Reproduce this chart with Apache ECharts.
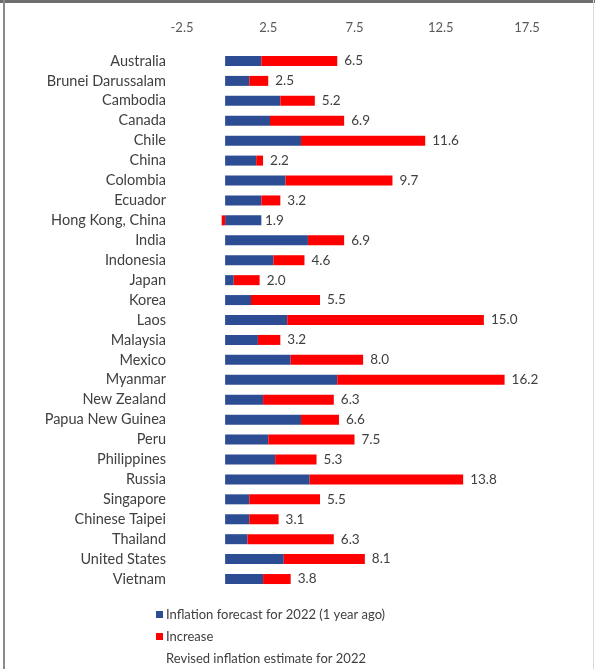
<!DOCTYPE html>
<html>
<head>
<meta charset="utf-8">
<script src="https://cdn.jsdelivr.net/npm/echarts@6/dist/echarts.min.js"></script>
<style>
  html, body { margin: 0; padding: 0; background: #fff; }
  #chart { width: 595px; height: 669px; }
</style>
</head>
<body>
<div id="chart"></div>
<script>
// Economies, top to bottom
const economies = [
  'Australia', 'Brunei Darussalam', 'Cambodia', 'Canada', 'Chile', 'China',
  'Colombia', 'Ecuador', 'Hong Kong, China', 'India', 'Indonesia', 'Japan',
  'Korea', 'Laos', 'Malaysia', 'Mexico', 'Myanmar', 'New Zealand',
  'Papua New Guinea', 'Peru', 'Philippines', 'Russia', 'Singapore',
  'Chinese Taipei', 'Thailand', 'United States', 'Vietnam'
];

// Inflation forecast for 2022 made one year earlier (%)
const forecast = [
  2.1, 1.4, 3.2, 2.6, 4.4, 1.8,
  3.5, 2.1, 2.1, 4.8, 2.8, 0.5,
  1.5, 3.6, 1.9, 3.8, 6.5, 2.2,
  4.4, 2.5, 2.9, 4.9, 1.4,
  1.4, 1.3, 3.4, 2.2
];

// Change from the earlier forecast (percentage points)
const increase = [
  4.4, 1.1, 2.0, 4.3, 7.2, 0.4,
  6.2, 1.1, -0.2, 2.1, 1.8, 1.5,
  4.0, 11.4, 1.3, 4.2, 9.7, 4.1,
  2.2, 5.0, 2.4, 8.9, 4.1,
  1.7, 5.0, 4.7, 1.6
];

// Revised inflation estimate for 2022 (%)
const revised = [
  6.5, 2.5, 5.2, 6.9, 11.6, 2.2,
  9.7, 3.2, 1.9, 6.9, 4.6, 2.0,
  5.5, 15.0, 3.2, 8.0, 16.2, 6.3,
  6.6, 7.5, 5.3, 13.8, 5.5,
  3.1, 6.3, 8.1, 3.8
];

const seriesNames = [
  'Inflation forecast for 2022 (1 year ago)',
  'Increase',
  'Revised inflation estimate for 2022'
];

const FONT = 'Lato, "Open Sans", sans-serif';

// one single-item legend per row so the three entries stack without wrapping
const legendRowTop = [608, 630, 652];
const legends = seriesNames.map((name, i) => ({
  orient: 'vertical',
  left: 156,
  top: legendRowTop[i],
  padding: 0,
  itemWidth: 7,
  itemHeight: 7,
  icon: 'rect',
  selectedMode: false,
  textStyle: { fontSize: 13, color: '#404040', fontFamily: FONT, padding: [0, 0, 0, -2] },
  data: [name]
}));

const chart = echarts.init(document.getElementById('chart'), null, { renderer: 'canvas' });

chart.setOption({
  animation: false,
  backgroundColor: '#ffffff',
  textStyle: { fontFamily: FONT },
  grid: { left: 182, right: 68, top: 51, bottom: 80, containLabel: false },
  xAxis: {
    type: 'value',
    position: 'top',
    min: -2.5,
    max: 17.5,
    interval: 5,
    axisLine: { show: false },
    axisTick: { show: false },
    splitLine: { show: false },
    axisLabel: {
      margin: 17,
      fontSize: 13,
      color: '#595959',
      fontFamily: FONT,
      formatter: v => v.toFixed(1)
    }
  },
  yAxis: {
    type: 'category',
    inverse: true,
    data: economies,
    axisLine: { show: false },
    axisTick: { show: false },
    axisLabel: { margin: 16, fontSize: 14.5, color: '#404040', fontFamily: FONT }
  },
  legend: legends,
  series: [
    {
      name: seriesNames[0],
      type: 'bar',
      stack: 'total',
      barWidth: 10,
      itemStyle: { color: '#2C4C93' },
      data: forecast
    },
    {
      name: seriesNames[1],
      type: 'bar',
      stack: 'total',
      barWidth: 10,
      itemStyle: { color: '#FF0000' },
      data: increase
    },
    {
      name: seriesNames[2],
      type: 'bar',
      barWidth: 10,
      barGap: '-100%',
      itemStyle: { color: 'rgba(255,255,255,0)' },
      label: {
        show: true,
        position: 'right',
        distance: 7,
        fontSize: 13.5,
        color: '#404040',
        fontFamily: FONT,
        formatter: p => p.value.toFixed(1)
      },
      z: 1,
      data: revised
    }
  ],
  graphic: [
    { type: 'rect', shape: { x: 0, y: 0, width: 595, height: 3 }, style: { fill: '#6e6e6e' } },
    { type: 'rect', shape: { x: 3, y: 0, width: 2, height: 669 }, style: { fill: '#8a8a8a' } },
    { type: 'rect', shape: { x: 593, y: 0, width: 1, height: 669 }, style: { fill: '#d9d9d9' } }
  ]
});
</script>
</body>
</html>
